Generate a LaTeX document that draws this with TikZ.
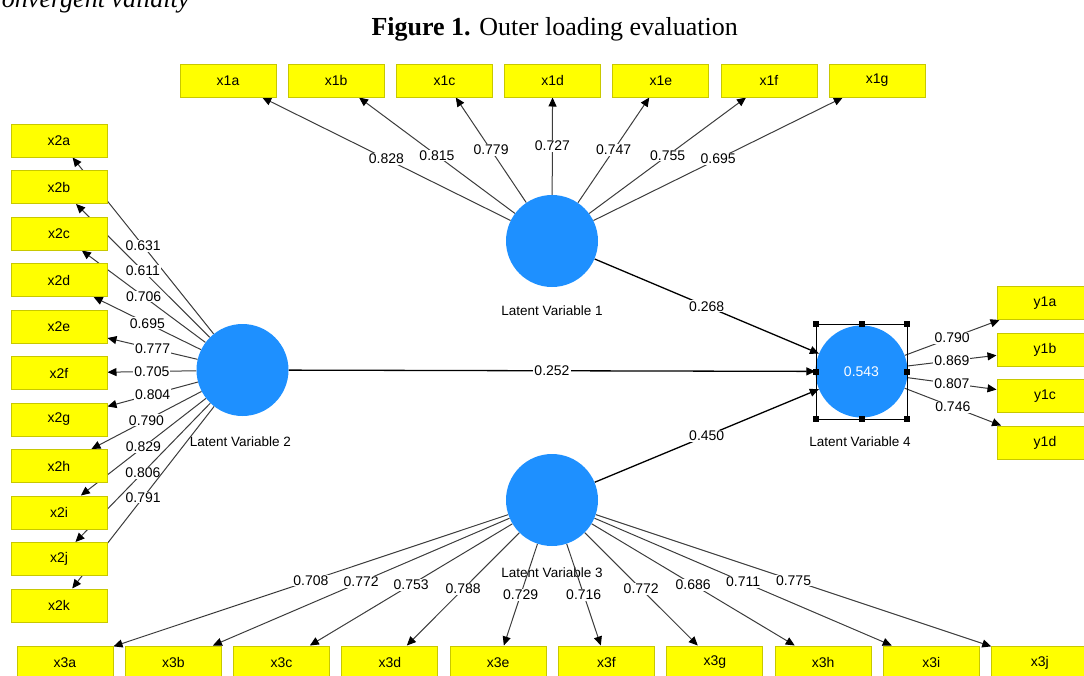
\documentclass[tikz,border=0pt]{standalone}
\usepackage{fontspec}
\setmainfont{Liberation Serif}
\newfontfamily\plsfont{Liberation Sans}
\usetikzlibrary{arrows.meta,backgrounds}
\definecolor{lvblue}{RGB}{30,144,255}
\definecolor{indyellow}{RGB}{255,255,0}
\definecolor{indborder}{RGB}{200,200,0}
\definecolor{pathgray}{RGB}{60,60,60}
\begin{document}
\begin{tikzpicture}[x=1pt,y=-1pt,
  ind/.style={draw=indborder, line width=1pt, fill=indyellow, minimum width=96pt,
    minimum height=33pt, inner sep=0pt, font=\plsfont\fontsize{14}{16}\selectfont},
  lv/.style={circle, fill=lvblue, minimum size=92pt, inner sep=0pt},
  lvname/.style={font=\plsfont\fontsize{13.5}{16}\selectfont},
  wt/.style={fill=white, inner sep=1pt, font=\plsfont\fontsize{14}{16}\selectfont},
  loading/.style={draw=pathgray, line width=1pt, -{Triangle[length=9pt,width=8pt,color=black]}},
  structpath/.style={draw=black, line width=1.3pt, -{Triangle[length=9pt,width=8pt]}},
  handle/.style={fill=black, minimum size=6pt, inner sep=0pt}
]
\useasboundingbox (0,0) rectangle (1084,675);

% caption lines
\node[anchor=base east, font=\fontsize{26}{30}\selectfont\itshape] (prevline) at (193,7) {convergent validity};
\node[anchor=base, font=\fontsize{26}{30}\selectfont] (caption) at (554.7,35) {\textbf{Figure 1.} Outer loading evaluation};

% latent variables
\node[lv] (lv1) at (552,241) {};
\node[lv] (lv2) at (242.5,370) {};
\node[lv] (lv3) at (552,500) {};
\node[lv, text=white, font=\plsfont\fontsize{14}{16}\selectfont] (lv4) at (861.5,371.5) {0.543};

% indicators
\foreach \n [count=\i from 0] in {a,b,c,d,e,f,g}
  \node[ind] (x1\n) at (228+108.2*\i,80.5) {x1\n};
\foreach \n [count=\i from 0] in {a,b,c,d,e,f,g,h,i,j,k}
  \node[ind] (x2\n) at (59,140.5+46.5*\i) {x2\n};
\foreach \n [count=\i from 0] in {a,b,c,d,e,f,g,h,i,j}
  \node[ind] (x3\n) at (65+108.3*\i,662.5) {x3\n};
\foreach \n [count=\i from 0] in {a,b,c,d}
  \node[ind] (y1\n) at (1045,303+46.5*\i) {y1\n};

\begin{pgfonlayer}{background}
  \node[lvname] (lv1name) at (552,311) {Latent Variable 1};
  \node[lvname] (lv2name) at (240.3,442) {Latent Variable 2};
  \node[lvname] (lv3name) at (552,573) {Latent Variable 3};
  \node[lvname] (lv4name) at (860,442) {Latent Variable 4};

  % outer loadings
  \foreach \n/\v in {a/0.828,b/0.815,c/0.779,d/0.727,e/0.747,f/0.755,g/0.695}
    \draw[loading] (lv1) -- node[wt]{\v} (x1\n);
  \foreach \n/\v in {a/0.631,b/0.611,c/0.706,d/0.695,e/0.777,f/0.705,g/0.804,h/0.790,i/0.829,j/0.806,k/0.791}
    \draw[loading] (lv2) -- node[wt]{\v} (x2\n);
  \foreach \n/\v in {a/0.708,b/0.772,c/0.753,d/0.788,e/0.729,f/0.716,g/0.772,h/0.686,i/0.711,j/0.775}
    \draw[loading] (lv3) -- node[wt]{\v} (x3\n);
  \foreach \n/\v in {a/0.790,b/0.869,c/0.807,d/0.746}
    \draw[loading] (lv4) -- node[wt]{\v} (y1\n);

  % path coefficients
  \draw[structpath] (lv1) -- node[wt]{0.268} (lv4);
  \draw[structpath] (lv2) -- node[wt]{0.252} (lv4);
  \draw[structpath] (lv3) -- node[wt]{0.450} (lv4);
\end{pgfonlayer}

% selection frame around the endogenous variable
\draw[black, line width=0.8pt] (816,324) rectangle (907,419);
\foreach \hx/\hy in {816/324,861.5/324,907/324,816/371.5,907/371.5,816/419,861.5/419,907/419}
  \node[handle] at (\hx,\hy) {};
\end{tikzpicture}
\end{document}
